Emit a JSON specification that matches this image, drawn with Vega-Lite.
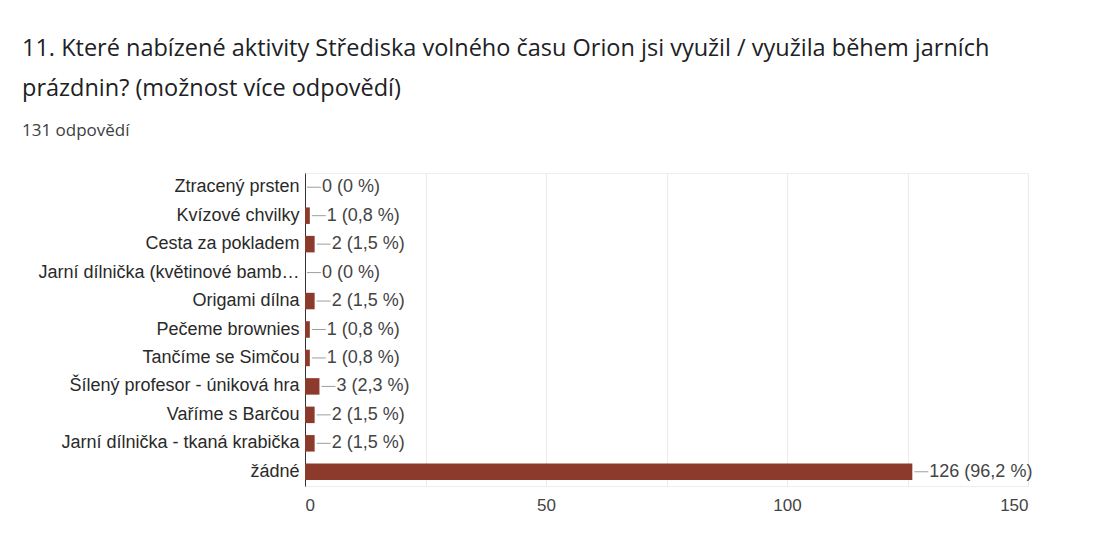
{
  "$schema": "https://vega.github.io/schema/vega-lite/v6.json",
  "width": 723,
  "height": 313,
  "autosize": {"type": "none"},
  "padding": {"left": 305, "top": 173, "right": 70, "bottom": 58},
  "background": "white",
  "title": {
    "text": ["11. Které nabízené aktivity Střediska volného času Orion jsi využil / využila během jarních", "prázdnin? (možnost více odpovědí)"],
    "subtitle": "131 odpovědí",
    "anchor": "start",
    "frame": "group",
    "dx": -283,
    "offset": 34,
    "font": "Open Sans",
    "fontSize": 23.5,
    "fontWeight": "normal",
    "color": "#202124",
    "lineHeight": 40,
    "subtitleFont": "Open Sans",
    "subtitleFontSize": 17,
    "subtitleColor": "#3c4043",
    "subtitlePadding": 23
  },
  "config": {"view": {"stroke": "#eeeeee"}},
  "data": {
    "values": [
      {"activity": "Ztracený prsten", "count": 0, "label": "0 (0 %)"},
      {"activity": "Kvízové chvilky", "count": 1, "label": "1 (0,8 %)"},
      {"activity": "Cesta za pokladem", "count": 2, "label": "2 (1,5 %)"},
      {"activity": "Jarní dílnička (květinové bamb…", "count": 0, "label": "0 (0 %)"},
      {"activity": "Origami dílna", "count": 2, "label": "2 (1,5 %)"},
      {"activity": "Pečeme brownies", "count": 1, "label": "1 (0,8 %)"},
      {"activity": "Tančíme se Simčou", "count": 1, "label": "1 (0,8 %)"},
      {"activity": "Šílený profesor - úniková hra", "count": 3, "label": "3 (2,3 %)"},
      {"activity": "Vaříme s Barčou", "count": 2, "label": "2 (1,5 %)"},
      {"activity": "Jarní dílnička - tkaná krabička", "count": 2, "label": "2 (1,5 %)"},
      {"activity": "žádné", "count": 126, "label": "126 (96,2 %)"}
    ]
  },
  "encoding": {
    "y": {
      "field": "activity",
      "type": "nominal",
      "sort": null,
      "scale": {"paddingInner": 0.42, "paddingOuter": 0.21},
      "axis": {
        "title": null,
        "ticks": false,
        "domainColor": "#333333",
        "labelFont": "Liberation Sans",
        "labelFontSize": 18,
        "labelColor": "#2a2a2a",
        "labelPadding": 6,
        "labelLimit": 400
      }
    }
  },
  "layer": [
    {
      "mark": {"type": "bar", "color": "#8b3a2c"},
      "encoding": {
        "x": {
          "field": "count",
          "type": "quantitative",
          "scale": {"domain": [0, 150], "nice": false},
          "axis": {
            "title": null,
            "values": [0, 25, 50, 75, 100, 125, 150],
            "labelExpr": "datum.value % 50 == 0 ? datum.label : ''",
            "domain": false,
            "ticks": false,
            "gridColor": "#ebebeb",
            "labelFont": "Liberation Sans",
            "labelFontSize": 17,
            "labelColor": "#444444",
            "labelPadding": 11
          }
        }
      }
    },
    {
      "mark": {"type": "rule", "color": "#9e9e9e", "xOffset": 2, "x2Offset": 16},
      "encoding": {
        "x": {"field": "count", "type": "quantitative"},
        "x2": {"field": "count"}
      }
    },
    {
      "mark": {"type": "text", "align": "left", "baseline": "middle", "dx": 17, "font": "Liberation Sans", "fontSize": 18, "color": "#444444"},
      "encoding": {
        "x": {"field": "count", "type": "quantitative"},
        "text": {"field": "label"}
      }
    }
  ]
}
